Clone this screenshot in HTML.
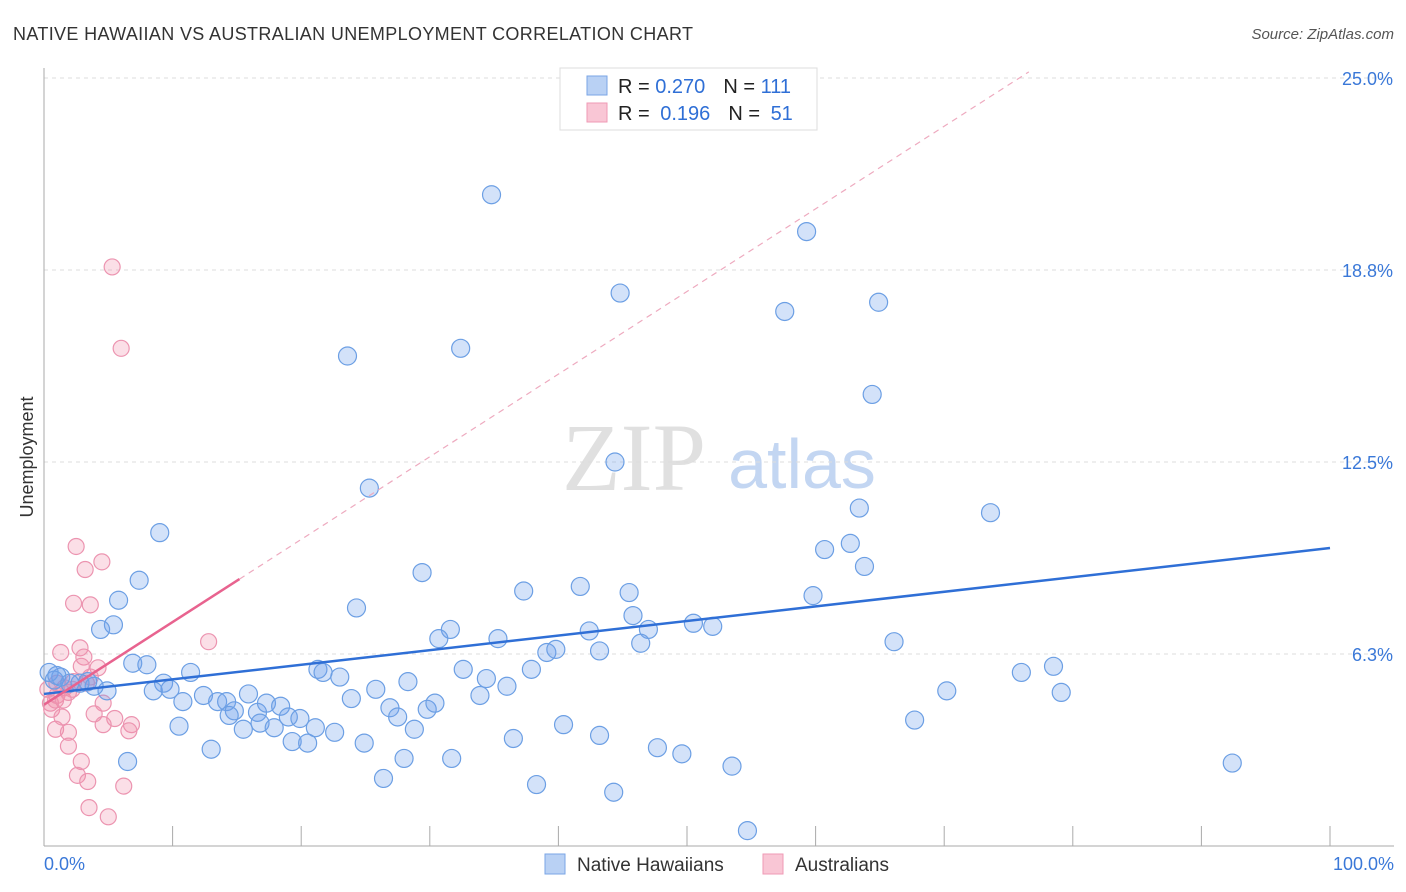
<!DOCTYPE html>
<html><head><meta charset="utf-8">
<style>
body{margin:0;background:#fff;font-family:"Liberation Sans",sans-serif;}
#wrap{position:relative;width:1406px;height:892px;overflow:hidden;}
</style></head>
<body>
<div id="wrap">
<svg id="chart" width="1406" height="892" xmlns="http://www.w3.org/2000/svg">
<text x="13" y="40" font-size="18" fill="#333" textLength="680">NATIVE HAWAIIAN VS AUSTRALIAN UNEMPLOYMENT CORRELATION CHART</text>
<text x="1394" y="39" font-size="15" fill="#555" font-style="italic" text-anchor="end">Source: ZipAtlas.com</text>
<text x="33" y="457" font-size="18" fill="#333" text-anchor="middle" transform="rotate(-90 33 457)">Unemployment</text>
<g>
<text x="634" y="490" font-size="96" font-family="Liberation Serif,serif" fill="#e0e0e0" text-anchor="middle">ZIP</text>
<text x="802" y="488" font-size="70" fill="#c3d6f2" text-anchor="middle">atlas</text>
</g>
<g id="grid"></g>
<g id="axes"></g>
<g id="marks"></g>
<g>
<rect x="560" y="68" width="257" height="62" fill="#fff" stroke="#ddd"/>
<rect x="587" y="76" width="20" height="19" fill="#b9d1f4" stroke="#7aa5e6"/>
<rect x="587" y="103" width="20" height="19" fill="#f9c6d5" stroke="#ef9ab5"/>
<text x="618" y="93" font-size="20" fill="#222">R = <tspan fill="#2f6fd6">0.270</tspan><tspan dx="18">N = </tspan><tspan fill="#2f6fd6">111</tspan></text>
<text x="618" y="120" font-size="20" fill="#222">R = <tspan fill="#2f6fd6" dx="5">0.196</tspan><tspan dx="18">N = </tspan><tspan fill="#2f6fd6" dx="5">51</tspan></text>
</g>
<g>
<rect x="545" y="854" width="20" height="20" fill="#b9d1f4" stroke="#7aa5e6"/>
<text x="577" y="871" font-size="19" fill="#333">Native Hawaiians</text>
<rect x="763" y="854" width="20" height="20" fill="#f9c6d5" stroke="#ef9ab5"/>
<text x="795" y="871" font-size="19" fill="#333">Australians</text>
</g>
<text x="44" y="870" font-size="18" fill="#3a78d8">0.0%</text>
<text x="1394" y="870" font-size="18" fill="#3a78d8" text-anchor="end">100.0%</text>
</svg>
</div>
<script>
const yTicks=[25,18.75,12.5,6.25];
const yTickLabels=["25.0%","18.8%","12.5%","6.3%"];
const xTicks=[10,20,30,40,50,60,70,80,90,100];
const blueX=[34.8,59.3,44.8,57.6,64.9,23.6,32.4,64.4,44.4,25.3,63.4,73.6,9.0,60.7,62.7,63.8,29.4,7.4,37.3,41.7,45.5,59.8,5.8,24.3,45.8,5.4,4.4,31.6,30.7,35.3,42.4,47.0,50.5,52.0,46.4,66.1,39.1,39.8,43.2,6.9,8.0,11.4,21.3,21.7,23.0,32.6,37.9,34.4,36.0,28.3,76.0,78.5,79.1,70.2,9.3,8.5,9.8,4.9,3.9,1.3,0.4,0.8,12.4,15.9,10.8,13.5,14.2,14.8,14.4,16.6,17.3,18.4,19.0,19.9,23.9,25.8,26.9,27.5,29.8,30.4,33.9,10.5,15.5,16.8,17.9,21.1,22.6,28.8,40.4,67.7,13.0,19.3,20.5,24.9,36.5,43.2,47.7,49.6,6.5,28.0,31.7,53.5,92.4,26.4,38.3,44.3,54.7,2.8,3.4,1.0,2.0];
const blueY=[21.2,20.0,18.0,17.4,17.7,15.95,16.2,14.7,12.5,11.65,11.0,10.85,10.2,9.65,9.85,9.1,8.9,8.65,8.3,8.45,8.25,8.15,8.0,7.75,7.5,7.2,7.05,7.05,6.75,6.75,7.0,7.05,7.25,7.15,6.6,6.65,6.3,6.4,6.35,5.95,5.9,5.65,5.75,5.65,5.5,5.75,5.75,5.45,5.2,5.35,5.65,5.85,5.0,5.05,5.3,5.05,5.1,5.05,5.2,5.5,5.65,5.4,4.9,4.95,4.7,4.7,4.7,4.4,4.25,4.35,4.65,4.55,4.2,4.15,4.8,5.1,4.5,4.2,4.45,4.65,4.9,3.9,3.8,4.0,3.85,3.85,3.7,3.8,3.95,4.1,3.15,3.4,3.35,3.35,3.5,3.6,3.2,3.0,2.75,2.85,2.85,2.6,2.7,2.2,2.0,1.75,0.5,5.3,5.35,5.55,5.3];
const pinkX=[5.3,6.0,2.5,4.5,3.2,2.3,3.6,12.8,2.8,1.3,3.1,4.2,2.9,2.3,1.6,1.0,0.5,0.9,1.5,1.9,0.6,1.4,4.6,3.9,5.5,4.6,6.8,6.6,0.9,1.9,1.9,2.9,2.6,3.4,6.2,3.5,5.0,3.3,2.2,0.3,1.0,3.6];
const pinkY=[18.85,16.2,9.75,9.25,9.0,7.9,7.85,6.65,6.45,6.3,6.15,5.8,5.85,5.35,5.15,4.9,4.65,4.75,4.75,5.0,4.45,4.2,4.65,4.3,4.15,3.95,3.95,3.75,3.8,3.7,3.25,2.75,2.3,2.1,1.95,1.25,0.95,5.3,5.1,5.1,5.3,5.5];
const blueTrend=[4.95,9.7];
const pinkTrend=[4.6,0.269];

const X0=44,X1=1330,YB=846,PXPERPCT=30.72;
const sx=v=>X0+(X1-X0)*v/100;
const sy=v=>YB-v*PXPERPCT;
const NS="http://www.w3.org/2000/svg";
function mk(tag,attrs,parent){const e=document.createElementNS(NS,tag);for(const k in attrs)e.setAttribute(k,attrs[k]);parent.appendChild(e);return e;}
const grid=document.getElementById('grid'),axes=document.getElementById('axes'),marks=document.getElementById('marks');
yTicks.forEach((t,i)=>{
 const l=mk('line',{x1:44,x2:1394,y1:sy(t),y2:sy(t),stroke:'#ddd','stroke-dasharray':'4 4'},grid);
 
 
 const tx=mk('text',{x:1393,y:sy(t)+7,'font-size':18,fill:'#3a78d8','text-anchor':'end'},grid);
 tx.textContent=yTickLabels[i];
 
 
});
const ya=mk('line',{x1:44,x2:44,y1:68,y2:846,stroke:'#aaa'},axes);


const xa=mk('line',{x1:44,x2:1394,y1:846,y2:846,stroke:'#aaa'},axes);


xTicks.forEach(t=>{
 const l=mk('line',{x1:sx(t),x2:sx(t),y1:826,y2:846,stroke:'#aaa'},axes);
 
 
});
pinkX.forEach((v,i)=>{
 const c=mk('circle',{cx:sx(v),cy:sy(pinkY[i]),r:8,fill:'rgba(240,140,170,0.28)',stroke:'#ec94b0','stroke-width':1.2},marks);
 
 
});
blueX.forEach((v,i)=>{
 const c=mk('circle',{cx:sx(v),cy:sy(blueY[i]),r:9,fill:'rgba(110,160,235,0.3)',stroke:'#6c9fe4','stroke-width':1.2},marks);
 
 
});
const bl=mk('line',{x1:sx(0),y1:sy(blueTrend[0]),x2:sx(100),y2:sy(blueTrend[1]),stroke:'#2f6fd6','stroke-width':2.5},marks);


const pEnd=15.2, pTop=(25.2-pinkTrend[0])/pinkTrend[1];
const pl=mk('line',{x1:sx(0),y1:sy(pinkTrend[0]),x2:sx(pEnd),y2:sy(pinkTrend[0]+pinkTrend[1]*pEnd),stroke:'#e8638f','stroke-width':2.5},marks);


const pd=mk('line',{x1:sx(pEnd),y1:sy(pinkTrend[0]+pinkTrend[1]*pEnd),x2:sx(pTop),y2:sy(pinkTrend[0]+pinkTrend[1]*pTop),stroke:'#eeaabf','stroke-width':1.2,'stroke-dasharray':'6 5'},marks);


</script>
</body></html>
